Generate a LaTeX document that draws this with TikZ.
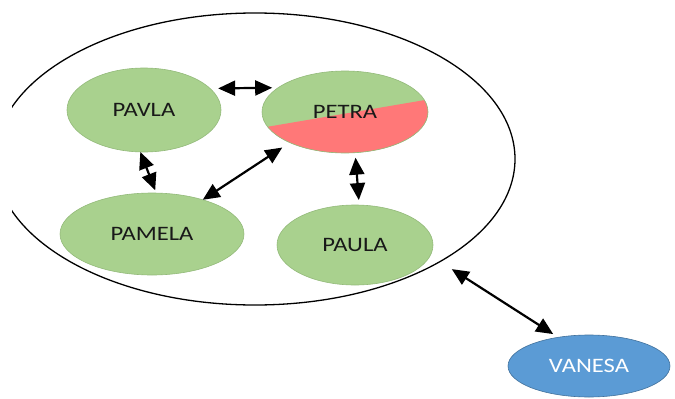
\documentclass[tikz,border=0pt]{standalone}
\usepackage{fontspec}
\newfontfamily\namefont{Carlito}[FakeStretch=1.2]
\usepackage{tikz}
\usetikzlibrary{arrows.meta,shapes.geometric}

\definecolor{leafgreen}{HTML}{A9D18E}
\definecolor{leafedge}{HTML}{93BA7A}
\definecolor{petrared}{HTML}{FF7878}
\definecolor{skyblue}{HTML}{5B9BD5}
\definecolor{skyedge}{HTML}{41719C}

\begin{document}
\begin{tikzpicture}[
 x=1pt,y=-1pt,font=\namefont\fontsize{20.5}{24}\selectfont,
 person/.style={ellipse,draw=leafedge,fill=leafgreen,line width=0.6pt,
                inner sep=0pt,outer sep=0pt,text=black!90},
 outsider/.style={person,draw=skyedge,fill=skyblue,text=white},
 group/.style={ellipse,draw=black,line width=1.3pt,inner sep=0pt,outer sep=0pt,
               minimum width=520pt,minimum height=292pt},
 link/.style={{Triangle[length=17pt,width=15pt]}-{Triangle[length=17pt,width=15pt]},
              line width=2.2pt}]
\useasboundingbox (0,0) rectangle (675,399);
% the circle of friends, cut at the left edge
\begin{scope}
\clip (12,0) rectangle (675,399);
\node[group] (circle) at (255,159) {};
\end{scope}
\node[person,minimum width=154pt,minimum height=84pt] (pavla) at (144,110) {PAVLA};
\node[person,minimum width=166pt,minimum height=82pt,
 path picture={\fill[petrared,shift={(path picture bounding box.center)}]
  (-250,43) -- (250,-42) -- (250,150) -- (-250,150) -- cycle;}]
 (petra) at (345,112) {PETRA};
\node[person,minimum width=184pt,minimum height=82pt] (pamela) at (152,234) {PAMELA};
\node[person,minimum width=156pt,minimum height=80pt] (paula) at (355,245) {PAULA};
\node[outsider,minimum width=162pt,minimum height=62pt] (vanesa) at (589,366) {VANESA};
\draw[link,shorten <=8pt,shorten >=6pt] (pavla.18) -- (petra.160);
\draw[link,shorten >=3pt] (pavla.265) -- (pamela.84);
\draw[link,shorten >=9pt] (pamela.34) -- (petra.209);
\draw[link,shorten <=5pt,shorten >=5pt] (petra.284) -- (paula.84);
\draw[link,shorten <=14pt,shorten >=6pt] (circle.331) -- (vanesa.137);
\end{tikzpicture}
\end{document}
